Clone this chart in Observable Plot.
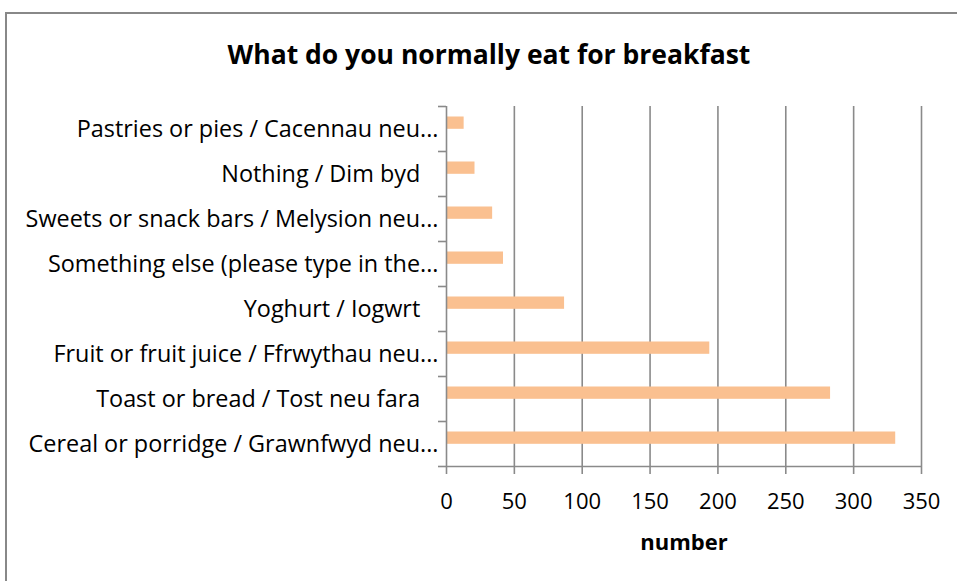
<!DOCTYPE html>
<html>
<head>
<meta charset="utf-8">
<script src="https://cdn.jsdelivr.net/npm/d3@7"></script>
<script src="https://cdn.jsdelivr.net/npm/@observablehq/plot@0.6"></script>
<style>
  html, body { margin: 0; padding: 0; background: #fff; overflow: hidden; }
  #frame { position: absolute; left: 5px; top: 12px; width: 1200px; height: 900px;
           border-left: 2px solid #888; border-top: 2px solid #888; }
  #title { position: absolute; left: 0; top: 36px; width: 978px; text-align: center;
           font: bold 26.5px "Open Sans", sans-serif; color: #000; }
  #chart { position: absolute; left: 0; top: 0; }
  #chart svg text { white-space: pre; }
  #chart g[aria-label="x-axis label"] text { font-weight: bold; }
</style>
</head>
<body>
<div id="frame"></div>
<div id="title">What do you normally eat for breakfast</div>
<div id="chart"></div>
<script>
const categories = [
  "Pastries or pies / Cacennau neu...",
  "Nothing / Dim byd   ",
  "Sweets or snack bars / Melysion neu...",
  "Something else (please type in the...",
  "Yoghurt / Iogwrt   ",
  "Fruit or fruit juice / Ffrwythau neu...",
  "Toast or bread / Tost neu fara   ",
  "Cereal or porridge / Grawnfwyd neu..."
];
const values = [13, 21, 34, 42, 87, 194, 283, 331];
const xTicks = [0, 50, 100, 150, 200, 250, 300, 350];
const axisTitle = "number";

const data = categories.map((c, i) => ({category: c, value: values[i]}));
const grey = "#8a8a8a";

const chart = Plot.plot({
  width: 957,
  height: 581,
  marginLeft: 446,
  marginRight: 36,
  marginTop: 106,
  marginBottom: 115,
  style: {fontFamily: "'Open Sans', sans-serif", fontSize: "22px", color: "#000", background: "transparent"},
  x: {domain: [0, 350]},
  y: {domain: categories, padding: 0},
  marks: [
    Plot.gridX(xTicks.slice(1), {stroke: grey, strokeOpacity: 1, strokeWidth: 1.6}),
    Plot.barX(data, {x: "value", y: "category", fill: "#fac090", insetTop: 10.5, insetBottom: 22.2}),
    Plot.ruleX([0], {stroke: grey, strokeWidth: 1.6}),
    Plot.ruleY([categories[categories.length - 1]], {stroke: grey, strokeWidth: 1.6, dy: 22.5}),
    Plot.axisX(xTicks, {tickSize: 8, tickPadding: 19, stroke: grey, strokeWidth: 1.6,
      label: axisTitle, labelAnchor: "center", labelArrow: "none", labelOffset: 83}),
    Plot.axisY({tickSize: 0, tickPadding: 8, label: null, fontSize: 23.4}),
    Plot.axisY(categories, {tickSize: 8, text: null, label: null, stroke: grey, strokeWidth: 1.6, dy: -22.5}),
    Plot.axisY([categories[categories.length - 1]], {tickSize: 8, text: null, label: null, stroke: grey, strokeWidth: 1.6, dy: 22.5})
  ]
});
document.getElementById("chart").appendChild(chart);
</script>
</body>
</html>
